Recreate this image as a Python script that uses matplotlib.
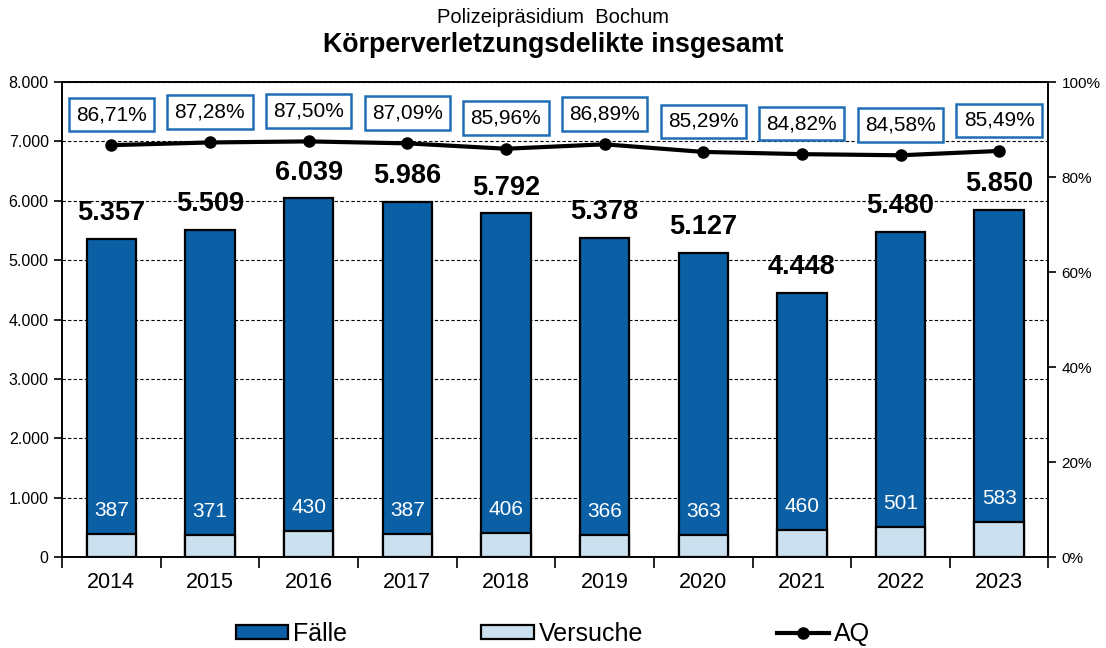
import numpy as np
import matplotlib.pyplot as plt
from matplotlib.ticker import FuncFormatter, MultipleLocator

plt.rcParams['font.family'] = ['Liberation Sans', 'DejaVu Sans']

# data
jahre = ['2014', '2015', '2016', '2017', '2018', '2019', '2020', '2021', '2022', '2023']
faelle = [5357, 5509, 6039, 5986, 5792, 5378, 5127, 4448, 5480, 5850]
versuche = [387, 371, 430, 387, 406, 366, 363, 460, 501, 583]
aq = [86.71, 87.28, 87.50, 87.09, 85.96, 86.89, 85.29, 84.82, 84.58, 85.49]

dunkel = '#0A5FA5'
hell = '#CCE1EF'

def punkt(v):
    return f'{v:,.0f}'.replace(',', '.')

fig = plt.figure(figsize=(11.06, 6.48), dpi=100)
ax = fig.add_axes([0.056, 0.1404, 0.892, 0.733])
x = np.arange(len(jahre))

ax.bar(x, faelle, 0.5, color=dunkel, edgecolor='black', linewidth=1.6, label='Fälle', zorder=3)
ax.bar(x, versuche, 0.5, color=hell, edgecolor='black', linewidth=1.6, label='Versuche', zorder=3)

for i in range(len(x)):
    ax.annotate(punkt(faelle[i]), (x[i], faelle[i]), xytext=(0, 9), textcoords='offset points',
                ha='center', va='bottom', fontsize=19.5, fontweight='bold', zorder=5)
    ax.annotate(str(versuche[i]), (x[i], versuche[i]), xytext=(0, 17), textcoords='offset points',
                ha='center', va='center', fontsize=15, color='white', zorder=5)

ax.set_ylim(0, 8000)
ax.set_xlim(-0.5, len(jahre) - 0.5)
ax.yaxis.set_major_locator(MultipleLocator(1000))
ax.yaxis.set_major_formatter(FuncFormatter(lambda v, p: punkt(v)))
ax.grid(axis='y', color='black', linestyle=(0, (3, 2)), linewidth=0.8, zorder=0)
ax.set_xticks(x)
ax.set_xticklabels(jahre, fontsize=15.5)
ax.set_xticks(np.arange(-0.5, len(jahre), 1), minor=True)
ax.tick_params(axis='x', which='major', length=0, pad=11)
ax.tick_params(axis='x', which='minor', length=8, width=1.2, direction='out')
ax.tick_params(axis='y', labelsize=11.5, length=6, width=1.2, direction='out')
for s in ax.spines.values():
    s.set_linewidth(1.2)

ax2 = ax.twinx()
ax2.plot(x, aq, color='black', linewidth=3, marker='o', markersize=8, label='AQ', zorder=4)
ax2.set_ylim(0, 100)
ax2.yaxis.set_major_locator(MultipleLocator(20))
ax2.yaxis.set_major_formatter(FuncFormatter(lambda v, p: f'{v:.0f}%'))
ax2.tick_params(axis='y', labelsize=11, length=6, width=1.2, direction='out')
for s in ax2.spines.values():
    s.set_linewidth(1.2)

for i in range(len(x)):
    ax2.annotate(f'{aq[i]:.2f}%'.replace('.', ','), (x[i], aq[i]), xytext=(0, 22),
                 textcoords='offset points', ha='center', va='center', fontsize=15,
                 bbox=dict(boxstyle='square,pad=0.35', fc='white', ec='#1F6DB5', lw=1.8))

fig.text(0.5, 0.973, 'Polizeipräsidium  Bochum', ha='center', va='center', fontsize=14.5)
fig.text(0.5, 0.93, 'Körperverletzungsdelikte insgesamt', ha='center', va='center',
         fontsize=19.3, fontweight='bold')

h1, l1 = ax.get_legend_handles_labels()
h2, l2 = ax2.get_legend_handles_labels()
fig.legend(h1 + h2, l1 + l2, loc='center', bbox_to_anchor=(0.5, 0.022), ncol=3,
           frameon=False, fontsize=18, handlelength=2.1, handleheight=0.5,
           handletextpad=0.2, columnspacing=5.35)

fig.savefig('out.png', dpi=100)
